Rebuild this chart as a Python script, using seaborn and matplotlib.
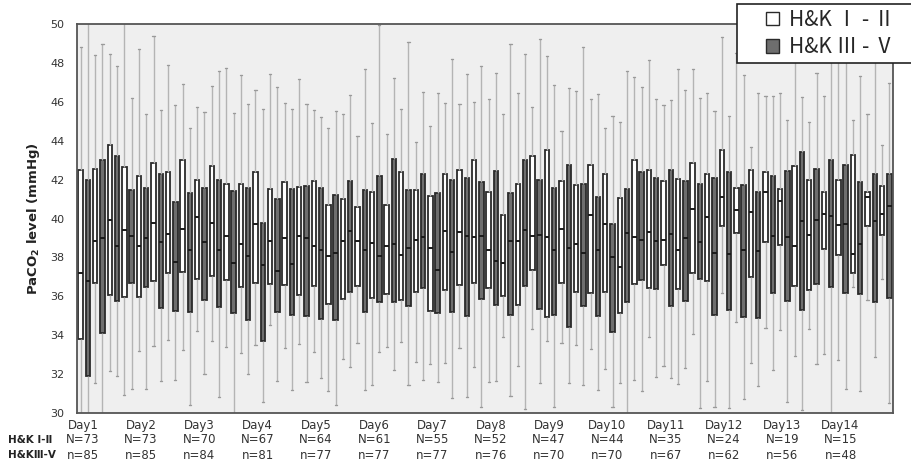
import numpy as np
import pandas as pd
import matplotlib
matplotlib.use("Agg")
import matplotlib.pyplot as plt
import matplotlib.transforms as mtransforms
from matplotlib.patches import Patch, Rectangle
import seaborn as sns

# ---------------- data ----------------
days = [f"Day{i}" for i in range(1, 15)]
n_mild = [73, 73, 70, 67, 64, 61, 55, 52, 47, 44, 35, 24, 19, 15]
n_severe = [85, 85, 84, 81, 77, 77, 77, 76, 70, 70, 67, 62, 56, 48]
groups = ["H&K Ⅰ - Ⅱ", "H&K Ⅲ - Ⅴ"]
yticks = [30, 32, 34, 36, 38, 40, 42, 44, 46, 48, 50]

# H&K I-II (white boxes), 4 time points per day
mild_low = [29.0, 31.53, 32.14, 30.91, 33.19, 33.44, 33.75, 33.24, 34.20, 33.70,
            33.38, 33.09, 33.48, 34.52, 33.32, 33.55, 33.12, 31.13, 32.79, 33.58,
            31.46, 33.38, 33.65, 32.61, 32.50, 32.55, 33.36, 32.36, 31.61, 33.92,
            32.40, 34.30, 33.72, 33.62, 33.50, 33.31, 32.24, 31.56, 31.70, 33.89,
            32.43, 31.49, 34.08, 31.65, 36.15, 34.66, 32.55, 34.39, 34.27, 32.93,
            34.34, 33.03, 32.73, 36.50, 35.81, 36.89]
mild_q1 = [33.79, 36.68, 36.05, 35.98, 35.95, 36.77, 37.20, 37.25, 36.91, 37.06,
           36.82, 36.50, 36.70, 36.62, 36.58, 36.08, 36.55, 35.59, 35.86, 36.51,
           35.91, 36.14, 35.79, 36.20, 35.24, 36.34, 36.60, 36.70, 36.41, 36.00,
           35.55, 37.35, 34.95, 36.68, 36.20, 36.15, 36.22, 35.13, 36.62, 36.41,
           37.61, 36.38, 37.18, 36.79, 39.60, 39.24, 37.00, 38.81, 38.65, 36.51,
           36.32, 38.43, 38.12, 37.18, 39.61, 39.15]
mild_med = [37.18, 38.83, 39.91, 39.41, 38.60, 39.77, 39.19, 39.46, 40.08, 39.77,
            39.10, 38.69, 39.70, 38.83, 39.01, 39.10, 38.60, 38.07, 38.84, 38.83,
            38.76, 38.59, 38.10, 38.89, 38.50, 39.36, 39.32, 39.03, 38.40, 37.71,
            38.84, 39.12, 39.03, 39.48, 38.69, 40.20, 39.70, 37.49, 39.05, 39.32,
            38.89, 38.40, 40.51, 40.06, 41.09, 40.46, 40.31, 41.38, 40.88, 38.59,
            39.15, 40.25, 39.68, 38.16, 41.09, 40.21]
mild_q3 = [42.49, 42.56, 43.78, 42.67, 42.20, 42.87, 42.39, 43.02, 41.98, 42.70,
           41.77, 41.77, 42.41, 41.50, 41.88, 41.60, 41.93, 40.71, 41.00, 40.57,
           41.35, 40.71, 42.41, 41.47, 41.16, 42.27, 42.49, 42.99, 41.38, 40.20,
           41.77, 43.20, 43.54, 41.95, 41.72, 42.73, 42.30, 41.07, 43.02, 42.49,
           41.95, 42.05, 42.87, 42.29, 43.50, 41.55, 42.49, 42.41, 41.53, 42.72,
           41.96, 41.35, 41.96, 43.28, 41.36, 41.69]
mild_high = [48.83, 48.39, 48.47, 51.0, 48.73, 49.36, 47.87, 46.93, 45.72, 46.80,
             47.75, 47.36, 46.61, 47.41, 45.96, 47.17, 45.58, 44.64, 45.36, 44.26,
             44.91, 44.36, 45.61, 43.93, 44.77, 45.92, 45.89, 45.97, 46.16, 45.39,
             46.47, 45.72, 48.36, 44.48, 46.56, 46.13, 44.67, 44.98, 47.29, 48.13,
             45.84, 47.67, 47.70, 46.47, 49.31, 48.5, 43.69, 46.30, 46.44, 49.0,
             44.94, 46.30, 49.0, 45.06, 45.39, 43.78]

# H&K III-V (dark boxes)
sev_low = [29.0, 29.0, 31.92, 31.22, 31.25, 31.65, 31.68, 30.41, 32.02, 30.82,
           29.0, 32.00, 30.57, 31.65, 31.18, 31.58, 31.80, 30.41, 32.38, 31.17,
           33.12, 32.23, 31.46, 31.68, 31.58, 30.79, 30.82, 30.29, 31.66, 30.89,
           30.21, 31.56, 30.33, 31.54, 31.42, 31.17, 30.29, 29.0, 31.11, 31.85,
           31.82, 32.31, 30.24, 30.33, 30.28, 30.70, 31.41, 32.21, 30.57, 30.15,
           32.50, 29.0, 31.22, 31.13, 32.86, 30.5]
sev_q1 = [31.90, 34.10, 35.78, 36.68, 36.46, 35.42, 35.26, 35.19, 35.79, 35.43,
          35.14, 34.80, 33.72, 35.19, 35.06, 35.00, 34.82, 34.79, 36.24, 35.19,
          35.69, 35.72, 35.50, 36.43, 35.16, 35.19, 34.99, 35.88, 35.55, 35.03,
          36.51, 35.35, 35.06, 34.40, 35.50, 35.00, 34.18, 35.71, 36.82, 36.38,
          35.50, 35.76, 36.91, 35.06, 35.30, 34.95, 34.90, 36.15, 35.76, 35.30,
          36.65, 36.46, 36.18, 36.14, 35.69, 35.93]
sev_med = [36.80, 39.01, 38.60, 39.12, 39.00, 38.81, 37.75, 38.38, 38.81, 38.40,
           37.71, 38.07, 37.63, 37.28, 37.64, 39.01, 38.40, 38.24, 39.36, 38.40,
           38.09, 38.69, 38.50, 39.03, 37.37, 38.29, 39.12, 39.10, 37.81, 38.83,
           39.41, 39.17, 38.40, 38.50, 38.23, 38.40, 38.00, 39.27, 38.89, 38.84,
           39.20, 39.01, 38.81, 38.24, 38.16, 38.38, 38.33, 39.10, 39.03, 39.89,
           39.94, 40.15, 39.70, 38.67, 39.85, 40.66]
sev_q3 = [41.96, 43.02, 43.20, 41.47, 41.59, 42.27, 40.87, 41.31, 41.59, 41.96,
          41.41, 41.55, 39.75, 41.00, 41.50, 41.69, 41.59, 41.21, 41.91, 41.45,
          42.20, 43.06, 41.47, 42.29, 41.31, 41.96, 42.08, 41.89, 42.44, 41.33,
          43.01, 41.98, 41.59, 42.73, 41.77, 41.09, 39.70, 41.52, 42.41, 42.07,
          42.49, 41.91, 41.77, 42.10, 42.41, 41.74, 41.38, 42.17, 42.44, 43.42,
          42.54, 42.99, 42.77, 41.88, 42.30, 42.27]
sev_high = [51.0, 48.97, 47.86, 46.20, 45.39, 45.56, 45.82, 44.65, 45.49, 47.58,
            45.41, 45.90, 45.61, 46.76, 45.61, 45.87, 45.22, 45.53, 46.33, 47.70,
            49.95, 47.21, 49.06, 46.49, 46.45, 48.18, 47.41, 47.86, 47.46, 48.97,
            48.46, 49.25, 46.88, 46.69, 48.83, 46.40, 45.27, 47.58, 46.78, 46.16,
            46.08, 46.59, 46.20, 45.53, 45.25, 47.38, 46.44, 46.30, 45.06, 46.23,
            47.50, 50.5, 49.5, 47.35, 49.0, 46.95]

# ---------------- long-form table: five summary values per box ----------------
rows = []
for g, stats in zip(groups, [(mild_low, mild_q1, mild_med, mild_q3, mild_high),
                             (sev_low, sev_q1, sev_med, sev_q3, sev_high)]):
    for i in range(len(stats[0])):
        for s in stats:
            rows.append({"slot": i, "group": g, "value": s[i]})
df = pd.DataFrame(rows)
n_slots = len(mild_low)

# ---------------- figure ----------------
sns.set_theme(style="white")
plt.rcParams["font.family"] = ["DejaVu Sans", "Noto Sans CJK JP"]

fig = plt.figure(figsize=(9.12, 4.65), dpi=100)
W, H = 912, 465
ax = fig.add_axes([77 / W, 1 - 413 / H, (893 - 77) / W, (413 - 24) / H])
ax.set_facecolor("#efefef")

sns.boxplot(data=df, x="slot", y="value", hue="group", hue_order=groups,
            order=list(range(n_slots)),
            palette={groups[0]: "#ffffff", groups[1]: "#6e6e6e"},
            width=1.0, gap=0.38, whis=(0, 100), linewidth=1.3, linecolor="#2a2a2a",
            whiskerprops={"color": "#b4b4b4", "linewidth": 1.0},
            capprops={"color": "#9a9a9a", "linewidth": 1.0},
            medianprops={"color": "#1a1a1a", "linewidth": 1.4},
            showfliers=False, legend=False, ax=ax)

ax.set_xlim(-0.5, n_slots - 0.5)
ax.set_ylim(30, 50)
ax.set_yticks(yticks)
ax.set_yticklabels([str(t) for t in yticks], fontsize=8, color="#333333")
ax.set_xticks([])
ax.set_xlabel("")
ax.tick_params(axis="y", length=0, pad=9)
ax.set_ylabel("PaCO$_\\mathbf{2}$ level (mmHg)", fontsize=9.5, fontweight="bold",
              color="#222222", labelpad=6)
for sp in ax.spines.values():
    sp.set_visible(True)
    sp.set_color("#555555")
    sp.set_linewidth(1.3)

# bottom day / N rows
trans = mtransforms.blended_transform_factory(ax.transData, ax.transAxes)
for d, (lab, nm, ns) in enumerate(zip(days, n_mild, n_severe)):
    xpos = 4 * d - 0.1
    ax.text(xpos, -0.031, lab, transform=trans, ha="center", va="center",
            fontsize=8.5, color="#333333")
    ax.text(xpos, -0.069, f"N={nm}", transform=trans, ha="center", va="center",
            fontsize=8.5, color="#333333")
    ax.text(xpos, -0.108, f"n={ns}", transform=trans, ha="center", va="center",
            fontsize=8.5, color="#333333")

fig.text(8 / W, 1 - 440 / H, "H&K Ⅰ-Ⅱ", ha="left", va="center",
         fontsize=7.5, fontweight="bold", color="#222222",
         family=["DejaVu Sans", "Noto Sans CJK JP"])
fig.text(8 / W, 1 - 455 / H, "H&KⅢ-Ⅴ", ha="left", va="center",
         fontsize=7.5, fontweight="bold", color="#222222",
         family=["DejaVu Sans", "Noto Sans CJK JP"])

# legend: white frame running off the right edge, as in the reference
frame = Rectangle((737 / W, 1 - 63 / H), (915 - 737) / W, 59 / H,
                  transform=fig.transFigure, facecolor="white",
                  edgecolor="#222222", linewidth=1.2, zorder=3, clip_on=False)
fig.patches.append(frame)
handles = [Patch(facecolor="#ffffff", edgecolor="#2a2a2a", linewidth=1.0),
           Patch(facecolor="#6e6e6e", edgecolor="#2a2a2a", linewidth=1.0)]
leg = fig.legend(handles, groups, loc="upper left",
                 bbox_to_anchor=(762 / W, 1 - 5 / H), borderaxespad=0,
                 handlelength=0.6, handleheight=0.6,
                 handletextpad=0.5, borderpad=0.2, labelspacing=0.25,
                 frameon=False,
                 prop={"family": ["Noto Sans CJK JP", "DejaVu Sans"], "size": 15})
leg.set_zorder(4)

fig.savefig("out.png", dpi=100, facecolor="white")
